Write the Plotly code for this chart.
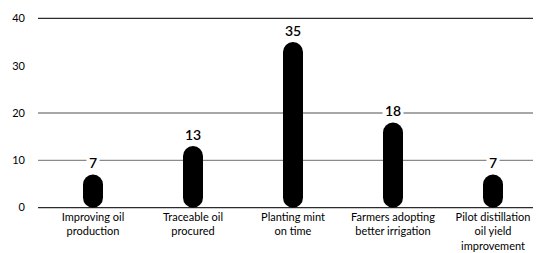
import plotly.graph_objects as go

categories = [
    "Improving oil<br>production",
    "Traceable oil<br>procured",
    "Planting mint<br>on time",
    "Farmers adopting<br>better irrigation",
    "Pilot distillation<br>oil yield<br>improvement",
]
values = [7, 13, 35, 18, 7]
y_ticks = [0, 10, 20, 30, 40]
grid_values = [40, 20, 10, 0]
grid_colors = ["#2b2b2b", "#8a8a8a", "#8a8a8a", "#2b2b2b"]

FONT = "Lato"

fig = go.Figure()
fig.add_trace(go.Bar(x=categories, y=values, base=[0] * len(values), width=0.2,
                     marker=dict(color="#000000", line=dict(width=0), cornerradius=10),
                     hoverinfo="skip"))

for gv, gc in zip(grid_values, grid_colors):
    fig.add_shape(type="line", xref="paper", x0=0, x1=1, yref="y", y0=gv, y1=gv,
                  line=dict(color=gc, width=1.3), layer="below")

for c, v in zip(categories, values):
    fig.add_annotation(x=c, y=v, text=str(v), showarrow=False, yshift=12,
                       bgcolor="white", borderpad=2,
                       font=dict(family=FONT, size=14, color="#000000", weight=600))

fig.update_layout(
    width=533, height=245,
    margin=dict(l=30, r=0, t=7.6, b=42.6, autoexpand=False),
    paper_bgcolor="white", plot_bgcolor="white",
    barmode="overlay",
    showlegend=False,
    font=dict(family=FONT, color="#000000"),
    xaxis=dict(range=[-0.55, 4.48], showgrid=False, zeroline=False, showline=False,
               ticks="", automargin=False, tickfont=dict(size=11, family=FONT),
               ticklabelstandoff=-1),
    yaxis=dict(range=[-0.5, 40.5], tickvals=y_ticks, showgrid=False, zeroline=False,
               showline=False, ticks="", automargin=False,
               tickfont=dict(size=11, family=FONT), ticklabelstandoff=12),
)

fig.write_html("out.html")
